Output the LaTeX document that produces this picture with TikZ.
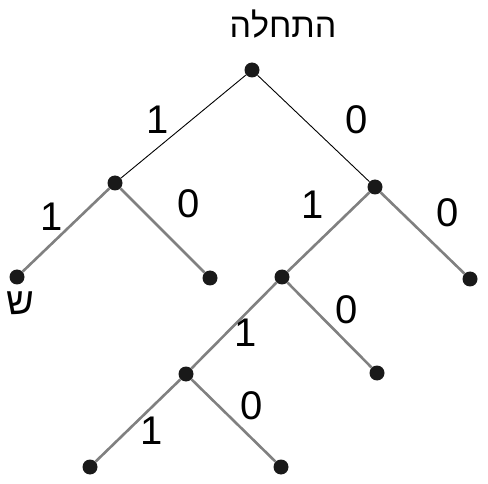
\documentclass[tikz,border=0pt]{standalone}
\usepackage{fontspec}
\setmainfont{Liberation Sans}
\TeXXeTstate=1
\begin{document}
\begin{tikzpicture}[x=1pt,y=-1pt,
  dot/.style={circle,fill=black!90,inner sep=0pt,minimum size=15pt},
  thinedge/.style={draw=black,line width=0.9pt},
  grayedge/.style={draw=black!50,line width=2.6pt},
  lbl/.style={font=\fontsize{40}{44}\selectfont,inner sep=0pt}]
\useasboundingbox (0,0) rectangle (488,484);
\node[dot] (r) at (252,70) {};
\node[dot] (a) at (115,183) {};
\node[dot] (b) at (375,187) {};
\node[dot] (aa) at (17,277) {};
\node[dot] (ab) at (210,278) {};
\node[dot] (ba) at (282,277) {};
\node[dot] (bb) at (470,279) {};
\node[dot] (baa) at (186,374) {};
\node[dot] (bab) at (377,373) {};
\node[dot] (baaa) at (90,467) {};
\node[dot] (baab) at (281,467) {};
\draw[thinedge] (r) -- (a);
\draw[thinedge] (r) -- (b);
\draw[grayedge] (a) -- (aa);
\draw[grayedge] (a) -- (ab);
\draw[grayedge] (b) -- (ba);
\draw[grayedge] (b) -- (bb);
\draw[grayedge] (ba) -- (baa);
\draw[grayedge] (ba) -- (bab);
\draw[grayedge] (baa) -- (baaa);
\draw[grayedge] (baa) -- (baab);
\node[lbl,font=\fontsize{34}{38}\selectfont] (start) at (283,24) {\beginR התחלה\endR};
\node[lbl] (l1) at (158,120) {1};
\node[lbl] (l2) at (357,120) {0};
\node[lbl] (l3) at (52,217) {1};
\node[lbl] (l4) at (189,204) {0};
\node[lbl] (l5) at (313,205) {1};
\node[lbl] (l6) at (448,213) {0};
\node[lbl,font=\fontsize{38}{42}\selectfont] (shin) at (20,303) {ש};
\node[lbl] (l7) at (246,333) {1};
\node[lbl] (l8) at (347,310) {0};
\node[lbl] (l9) at (152,431) {1};
\node[lbl] (l10) at (252,406) {0};
\end{tikzpicture}
\end{document}
